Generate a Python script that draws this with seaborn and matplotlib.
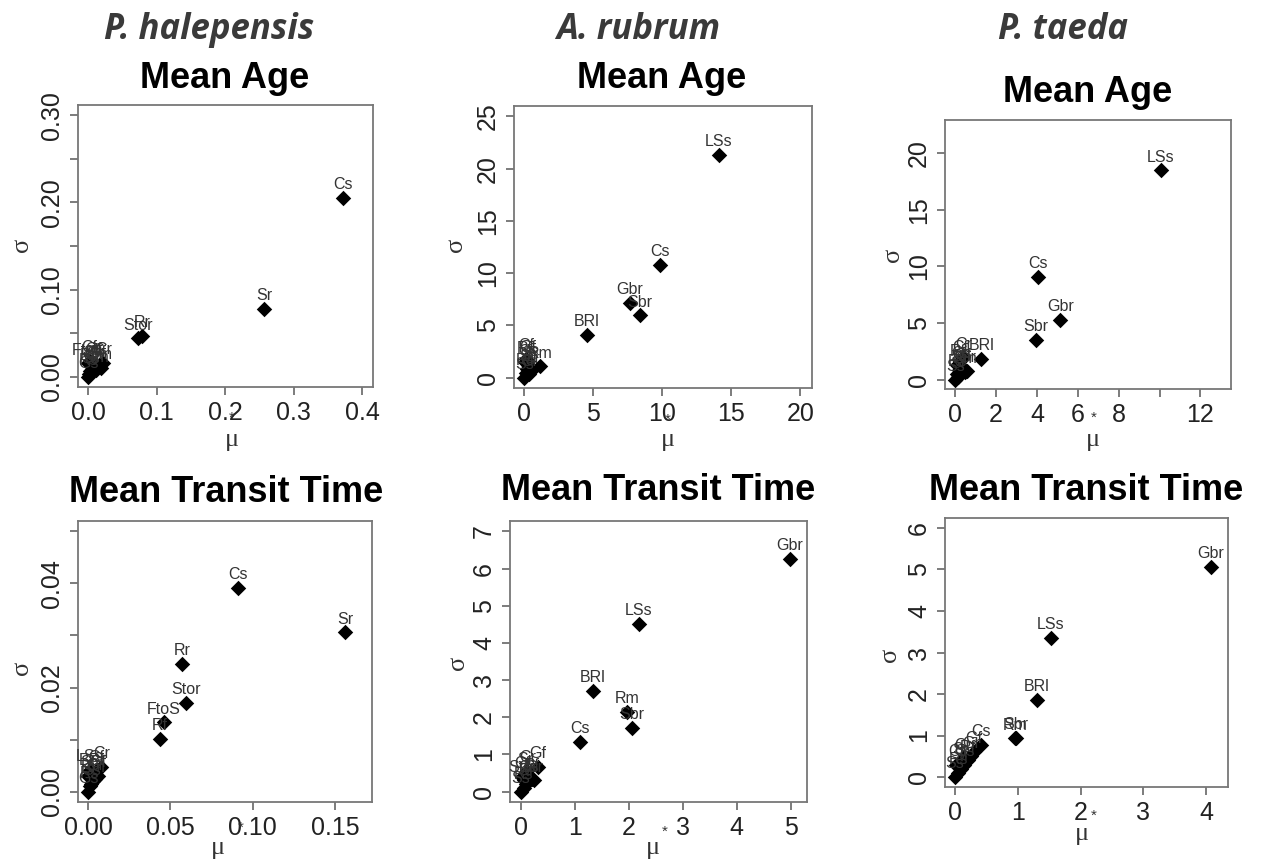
import numpy as np
import pandas as pd
import matplotlib
matplotlib.use("Agg")
import matplotlib.pyplot as plt
import seaborn as sns

# ---- data (mu* , sigma, parameter label) ----
ph_age_mu = [0.372, 0.257, 0.073, 0.079, 0.000, 0.001, 0.003, 0.006, 0.010, 0.004, 0.000, 0.008, 0.015, 0.022, 0.002, 0.012, 0.018]
ph_age_sigma = [0.205, 0.078, 0.044, 0.047, 0.000, 0.003, 0.006, 0.009, 0.011, 0.013, 0.015, 0.016, 0.013, 0.016, 0.018, 0.007, 0.010]
ph_age_lab = ["Cs", "Sr", "Stor", "Rr", "Gs", "Rs", "Ss", "Rm", "Gr", "Sf", "FtoS", "Gf", "Rf", "Cr", "Cf", "Gm", "Sm"]

ar_age_mu = [14.1, 9.86, 7.63, 8.36, 4.54, 1.16, 0.0, 0.1, 0.2, 0.3, 0.05, 0.15, 0.4, 0.25, 0.5, 0.35]
ar_age_sigma = [21.3, 10.8, 7.18, 5.96, 4.10, 1.06, 0.0, 0.4, 0.8, 1.2, 1.5, 1.8, 0.9, 1.6, 0.6, 0.3]
ar_age_lab = ["LSs", "Cs", "Gbr", "Sbr", "BRl", "Rm", "Ss", "Rs", "Sf", "Gs", "Rf", "Cf", "Sr", "Gf", "Cr", "Gr"]

pt_age_mu = [10.07, 4.05, 5.14, 3.95, 1.27, 0.0, 0.1, 0.2, 0.3, 0.5, 0.1, 0.25, 0.4, 0.35, 0.6, 0.15]
pt_age_sigma = [18.47, 9.09, 5.28, 3.52, 1.88, 0.0, 0.5, 0.9, 1.2, 0.7, 1.3, 1.7, 2.0, 1.0, 0.8, 0.3]
pt_age_lab = ["LSs", "Cs", "Gbr", "Sbr", "BRl", "Ss", "Rs", "Sf", "Gs", "Rm", "Rf", "Cf", "Cr", "Gf", "Gr", "Sr"]

ph_mtt_mu = [0.0909, 0.1562, 0.0569, 0.0593, 0.0460, 0.0435, 0.000, 0.001, 0.002, 0.003, 0.004, 0.000, 0.002, 0.006, 0.008, 0.005, 0.001]
ph_mtt_sigma = [0.0391, 0.0306, 0.0246, 0.0170, 0.0133, 0.0101, 0.000, 0.001, 0.0015, 0.002, 0.0025, 0.003, 0.0035, 0.003, 0.0047, 0.004, 0.0042]
ph_mtt_lab = ["Cs", "Sr", "Rr", "Stor", "FtoS", "Rf", "Gs", "Rs", "Ss", "Rm", "Gr", "Sf", "BRl", "Gf", "Cr", "Cf", "LSs"]

ar_mtt_mu = [4.98, 2.19, 1.33, 1.97, 2.06, 1.09, 0.32, 0.0, 0.05, 0.1, 0.15, 0.2, 0.02, 0.08, 0.12, 0.25, 0.05]
ar_mtt_sigma = [6.26, 4.51, 2.71, 2.14, 1.71, 1.34, 0.66, 0.0, 0.1, 0.2, 0.3, 0.35, 0.4, 0.5, 0.55, 0.3, 0.3]
ar_mtt_lab = ["Gbr", "LSs", "BRl", "Rm", "Sbr", "Cs", "Gf", "Ss", "Rs", "Sf", "Gs", "Rf", "Cf", "Sr", "Cr", "Gr", "Stor"]

pt_mtt_mu = [4.08, 1.525, 1.30, 0.95, 0.97, 0.41, 0.30, 0.0, 0.05, 0.1, 0.15, 0.2, 0.02, 0.08, 0.12, 0.25]
pt_mtt_sigma = [5.06, 3.35, 1.86, 0.93, 0.95, 0.77, 0.60, 0.0, 0.1, 0.2, 0.3, 0.4, 0.3, 0.35, 0.45, 0.5]
pt_mtt_lab = ["Gbr", "LSs", "BRl", "Rm", "Sbr", "Cs", "Gf", "Ss", "Rs", "Sf", "Gs", "Rf", "Cf", "Sr", "Cr", "Gr"]

species = ["P. halepensis", "A. rubrum", "P. taeda"]

W, H = 1262, 859

sns.set_style("ticks")
plt.rcParams['font.family'] = ['Liberation Sans', 'DejaVu Sans']

fig = plt.figure(figsize=(W / 100, H / 100), dpi=100)


def px_axes(l, t, r, b):
    return fig.add_axes([l / W, 1 - b / H, (r - l) / W, (b - t) / H])


def draw_panel(ax, mu, sigma, labels, xlim, ylim, xticks, xlabs, yticks, ylabs):
    df = pd.DataFrame({"mu": mu, "sigma": sigma, "lab": labels})
    sns.scatterplot(data=df, x="mu", y="sigma", ax=ax, marker="D", color="black",
                    s=62, linewidth=0, zorder=3)
    for _, row in df.iterrows():
        ax.annotate(row["lab"], (row["mu"], row["sigma"]), xytext=(0, 9.5),
                    textcoords="offset points", ha="center", va="center",
                    fontsize=11.5, color="#333333")
    ax.set_xlim(*xlim)
    ax.set_ylim(*ylim)
    ax.set_xticks(xticks)
    ax.set_xticklabels(xlabs, fontsize=18, color="#222222")
    ax.set_yticks(yticks)
    ax.set_yticklabels(ylabs, fontsize=18, color="#222222", rotation=90, va="center")
    ax.set_xlabel("")
    ax.set_ylabel("")
    ax.tick_params(length=6, width=1.2, color="#666666", pad=4)
    for sp in ax.spines.values():
        sp.set_visible(True)
        sp.set_color("#777777")
        sp.set_linewidth(1.3)


# top row: Mean Age
ax1 = px_axes(78, 105, 373, 387)
draw_panel(ax1, ph_age_mu, ph_age_sigma, ph_age_lab, (-0.015, 0.416), (-0.012, 0.312),
           [0, 0.1, 0.2, 0.3, 0.4], ["0.0", "0.1", "0.2", "0.3", "0.4"],
           [0, 0.05, 0.10, 0.15, 0.20, 0.25, 0.30], ["0.00", "", "0.10", "", "0.20", "", "0.30"])

ax2 = px_axes(514, 106, 812, 388)
draw_panel(ax2, ar_age_mu, ar_age_sigma, ar_age_lab, (-0.75, 20.85), (-1.0, 26.0),
           [0, 5, 10, 15, 20], ["0", "5", "10", "15", "20"],
           [0, 5, 10, 15, 20, 25], ["0", "5", "10", "15", "20", "25"])

ax3 = px_axes(945, 120, 1231, 389)
draw_panel(ax3, pt_age_mu, pt_age_sigma, pt_age_lab, (-0.5, 13.5), (-0.8, 22.9),
           [0, 2, 4, 6, 8, 10, 12], ["0", "2", "4", "6", "8", "", "12"],
           [0, 5, 10, 15, 20], ["0", "5", "10", "15", "20"])

# bottom row: Mean Transit Time
ax4 = px_axes(78, 521, 372, 802)
draw_panel(ax4, ph_mtt_mu, ph_mtt_sigma, ph_mtt_lab, (-0.0062, 0.1725), (-0.002, 0.052),
           [0, 0.05, 0.10, 0.15], ["0.00", "0.05", "0.10", "0.15"],
           [0, 0.01, 0.02, 0.03, 0.04, 0.05], ["0.00", "", "0.02", "", "0.04", ""])

ax5 = px_axes(510, 521, 807, 802)
draw_panel(ax5, ar_mtt_mu, ar_mtt_sigma, ar_mtt_lab, (-0.2, 5.3), (-0.28, 7.28),
           [0, 1, 2, 3, 4, 5], ["0", "1", "2", "3", "4", "5"],
           list(range(8)), [str(i) for i in range(8)])

ax6 = px_axes(945, 518, 1228, 787)
draw_panel(ax6, pt_mtt_mu, pt_mtt_sigma, pt_mtt_lab, (-0.16, 4.35), (-0.24, 6.24),
           [0, 1, 2, 3, 4], ["0", "1", "2", "3", "4"],
           list(range(7)), [str(i) for i in range(7)])


def ftxt(x, y, s, **kw):
    fig.text(x / W, 1 - y / H, s, ha="center", va="center", **kw)


# species headers
for s, cx in zip(species, [209, 638, 1063]):
    ftxt(cx, 30, s, fontsize=25, fontweight="bold", fontstyle="italic",
         color="#3a3a3a", family=["Open Sans", "DejaVu Sans"])

# panel titles
for cx, cy in [(225, 78), (662, 78), (1088, 92)]:
    ftxt(cx, cy, "Mean Age", fontsize=26, fontweight="bold", color="black")
for cx, cy in [(226, 492), (658, 490), (1086, 490)]:
    ftxt(cx, cy, "Mean Transit Time", fontsize=26, fontweight="bold", color="black")

# axis labels (sigma, mu and the stray star of mu*)
for cx, cy in [(22, 245), (456, 245), (893, 255), (22, 668), (458, 663), (890, 655)]:
    ftxt(cx, cy, "σ", fontsize=19, rotation=90, color="#333333",
         family=["Liberation Serif", "DejaVu Serif"])
for cx, cy in [(232, 440), (668, 440), (1093, 440), (218, 848), (653, 848), (1082, 834)]:
    ftxt(cx, cy, "μ", fontsize=19, color="#333333",
         family=["Liberation Serif", "DejaVu Serif"])
for cx, cy in [(232, 418), (668, 420), (1094, 418), (241, 828), (665, 832), (1094, 816)]:
    ftxt(cx, cy, "*", fontsize=11, color="#333333")

fig.savefig("out.png", dpi=100)
